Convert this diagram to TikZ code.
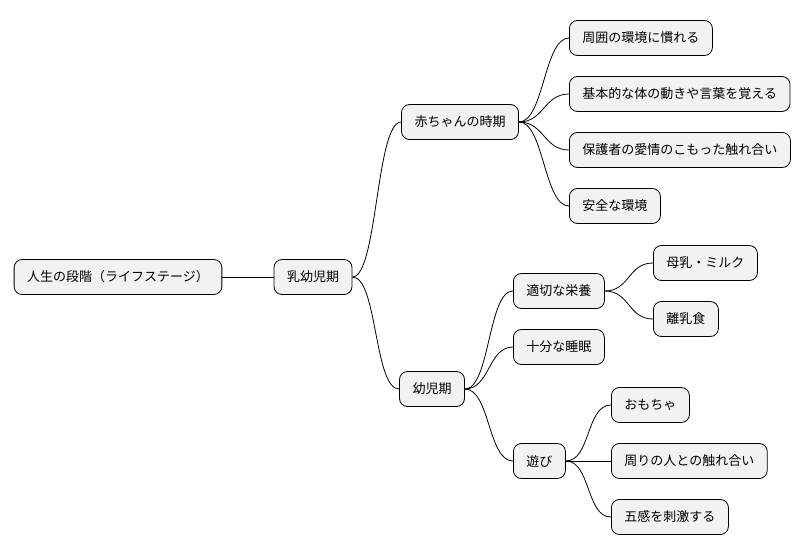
\documentclass[tikz,border=0pt]{standalone}
\usepackage{fontspec}
\setmainfont{Noto Sans CJK JP}
\begin{document}
\begin{tikzpicture}[x=1pt,y=-1pt,
  box/.style={draw=black,line width=0.8pt,fill=black!5,rounded corners=8pt,minimum height=35pt,inner xsep=13pt,font=\fontsize{13pt}{15pt}\selectfont},
  edge/.style={draw=black,line width=0.8pt}]
\useasboundingbox (0,0) rectangle (810,555);
\node[box] (r) at (118,277) {人生の段階（ライフステージ）};
\node[box] (a) at (313,277) {乳幼児期};
\node[box] (b) at (460,122) {赤ちゃんの時期};
\node[box] (c) at (432,389) {幼児期};
\node[box,anchor=west] (b1) at (569,38) {周囲の環境に慣れる};
\node[box,anchor=west] (b2) at (569,94) {基本的な体の動きや言葉を覚える};
\node[box,anchor=west] (b3) at (569,150) {保護者の愛情のこもった触れ合い};
\node[box,anchor=west] (b4) at (569,206) {安全な環境};
\node[box,anchor=west] (c1) at (513,291) {適切な栄養};
\node[box,anchor=west] (c11) at (653,263) {母乳・ミルク};
\node[box,anchor=west] (c12) at (653,319) {離乳食};
\node[box,anchor=west] (c2) at (513,347) {十分な睡眠};
\node[box,anchor=west] (c3) at (513,461) {遊び};
\node[box,anchor=west] (c31) at (611,405) {おもちゃ};
\node[box,anchor=west] (c32) at (611,461) {周りの人との触れ合い};
\node[box,anchor=west] (c33) at (611,517) {五感を刺激する};
\draw[edge] (r.east) -- (a.west);
\foreach \p/\c in {a/b,a/c,b/b1,b/b2,b/b3,b/b4,c/c1,c/c2,c/c3,c1/c11,c1/c12,c3/c31,c3/c32,c3/c33}
  \draw[edge] (\p.east) .. controls +(25,0) and +(-25,0) .. (\c.west);
\end{tikzpicture}
\end{document}
